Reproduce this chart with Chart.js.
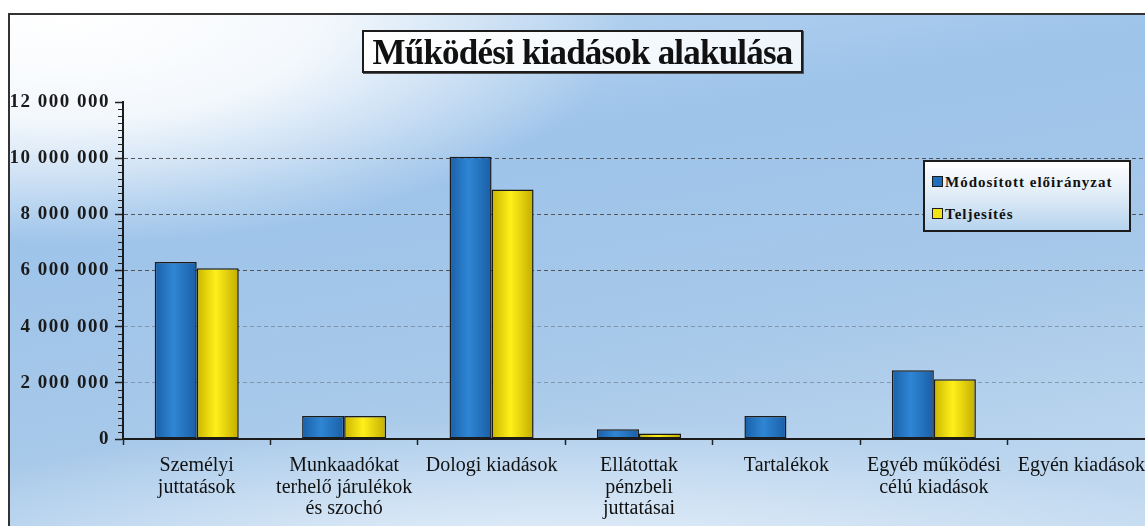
<!DOCTYPE html>
<html>
<head>
<meta charset="utf-8">
<script src="https://cdn.jsdelivr.net/npm/chart.js@4.4.1/dist/chart.umd.min.js"></script>
<style>
  html, body { margin: 0; padding: 0; width: 1145px; height: 526px; overflow: hidden; background: #fff; }
  #keret {
    position: absolute; left: 8px; top: 13px; width: 1150px; height: 520px;
    border-left: 2px solid #333; border-top: 2px solid #333;
    background:
      radial-gradient(ellipse 560px 230px at 5% 0%, #ffffff 0%, rgba(255,255,255,0.85) 45%, rgba(255,255,255,0) 100%),
      radial-gradient(ellipse 700px 140px at 45% 105%, rgba(235,243,251,0.9) 0%, rgba(235,243,251,0) 100%),
      linear-gradient(170deg, #c0d9f2 0%, #9ec4ea 30%, #a6c8e9 60%, #c6dcf1 100%);
  }
  #vaszon { position: absolute; left: 0; top: 0; width: 1145px; height: 511px; }
  #cim {
    position: absolute; left: 362px; top: 30px; width: 437px; height: 39px;
    border: 2px solid #1c1c1c; box-shadow: 1px 1px 0 #555;
    background: linear-gradient(to right, #ffffff, #eef5fb);
    font: bold 35px "Liberation Serif", serif; color: #111;
    text-align: center; line-height: 41px; letter-spacing: -0.8px;
  }
  #jelmagyarazat {
    position: absolute; left: 923px; top: 160px; width: 204px; height: 68px;
    border: 2px solid #1c1c1c;
    background: linear-gradient(to bottom, #ffffff 0%, #dbe9f6 55%, #b6d3ee 100%);
    font: bold 15px "Liberation Serif", serif; color: #111; letter-spacing: 1px;
  }
  .elem { position: absolute; left: 7px; height: 16px; line-height: 16px; white-space: nowrap; }
  .elem i { display: inline-block; width: 9px; height: 9px; border: 1px solid #1c1c1c; margin-right: 2px; vertical-align: 0px; }
</style>
</head>
<body>
<div id="keret"><canvas id="vaszon" width="1145" height="511"></canvas></div>
<div id="cim">Működési kiadások alakulása</div>
<div id="jelmagyarazat">
  <div class="elem" style="top:12px"><i style="background:#1f6fc0"></i>Módosított előirányzat</div>
  <div class="elem" style="top:44px"><i style="background:#f2e21a"></i>Teljesítés</div>
</div>
<script>
// adatok
const kategoriak = [
  ["Személyi", "juttatások"],
  ["Munkaadókat", "terhelő járulékok", "és szochó"],
  "Dologi kiadások",
  ["Ellátottak", "pénzbeli", "juttatásai"],
  "Tartalékok",
  ["Egyéb működési", "célú kiadások"],
  "Egyén kiadások"
];
const modositott = [6300000, 820000, 10050000, 350000, 820000, 2450000, 0];
const teljesites = [6080000, 820000, 8880000, 200000, 0, 2130000, 0];
const yTickek = [0, 2000000, 4000000, 6000000, 8000000, 10000000, 12000000];

const szamFormat = v => String(v).replace(/\B(?=(\d{3})+(?!\d))/g, " ");

const KAT_SZAZALEK = 0.57;

// oszlopok vizszintes szinatmenete
function oszlopSzin(szinek, sorszam) {
  return ctx => {
    const chart = ctx.chart, x = chart.scales && chart.scales.x;
    if (!x || ctx.dataIndex === undefined) return szinek[1];
    const kozep = x.getPixelForValue(ctx.dataIndex);
    const szel = x.width / kategoriak.length * KAT_SZAZALEK / 2;
    if (!isFinite(kozep) || !isFinite(szel) || szel <= 0) return szinek[1];
    const bal = kozep - szel + sorszam * szel;
    const g = chart.ctx.createLinearGradient(bal, 0, bal + szel, 0);
    g.addColorStop(0, szinek[0]);
    g.addColorStop(0.45, szinek[1]);
    g.addColorStop(1, szinek[2]);
    return g;
  };
}

// kis osztasok az y tengelyen + ritkitott y feliratok
const kisOsztas = {
  id: "kisOsztas",
  afterUpdate(chart) {
    const s = chart.scales.y;
    if (s._ritkitva) return;
    const eredeti = s.drawLabels.bind(s);
    s.drawLabels = ca => {
      chart.ctx.save();
      chart.ctx.letterSpacing = "1.5px";
      eredeti(ca);
      chart.ctx.restore();
    };
    s._ritkitva = true;
  },
  afterDraw(chart) {
    const y = chart.scales.y, c = chart.ctx, bal = chart.chartArea.left;
    c.save();
    c.strokeStyle = "#222";
    c.lineWidth = 1;
    for (let v = 0; v <= 12000000; v += 250000) {
      if (v % 2000000 === 0) continue;
      const p = Math.round(y.getPixelForValue(v)) + 0.5;
      c.beginPath(); c.moveTo(bal - 5, p); c.lineTo(bal, p); c.stroke();
    }
    c.restore();
  }
};

new Chart(document.getElementById("vaszon"), {
  type: "bar",
  data: {
    labels: kategoriak,
    datasets: [
      { label: "Módosított előirányzat", data: modositott,
        backgroundColor: oszlopSzin(["#1a5fa8", "#2f86d4", "#1a5ea6"], 0),
        borderColor: "#1b1b1b", borderWidth: 1.5, borderSkipped: false },
      { label: "Teljesítés", data: teljesites,
        backgroundColor: oszlopSzin(["#c9b500", "#fff01a", "#c2ad00"], 1),
        borderColor: "#1b1b1b", borderWidth: 1.5, borderSkipped: false }
    ]
  },
  options: {
    responsive: false, animation: false,
    devicePixelRatio: 1,
    layout: { padding: { top: 87, left: 0, right: 0, bottom: 0 } },
    datasets: { bar: { categoryPercentage: KAT_SZAZALEK, barPercentage: 1 } },
    plugins: { legend: { display: false }, title: { display: false }, tooltip: { enabled: false } },
    scales: {
      x: {
        offset: true,
        grid: { offset: true, drawOnChartArea: false, tickLength: 6, tickColor: "#222", tickWidth: 1.5 },
        border: { color: "#1b1b1b", width: 2 },
        ticks: { color: "#111", maxRotation: 0, minRotation: 0, autoSkip: false, padding: 10,
                 font: { family: "Liberation Serif", size: 20, lineHeight: 1.08 } },
        afterFit: s => { s.height = 87; }
      },
      y: {
        min: 0, max: 12000000,
        afterBuildTicks: s => { s.ticks = yTickek.map(v => ({ value: v })); },
        grid: {
          tickLength: 8, tickColor: "#222", tickWidth: 1.5,
          color: c => {
            const v = c.tick ? c.tick.value : 0;
            if (v === 0 || v === 12000000) return "rgba(0,0,0,0)";
            return v >= 6000000 ? "#555" : "rgba(110,130,150,0.7)";
          }
        },
        border: { color: "#1b1b1b", width: 2, dash: [4, 3] },
        ticks: { color: "#1a1a1a", padding: 5, callback: v => szamFormat(v),
                 font: { family: "Liberation Serif", size: 19, weight: "bold" } },
        afterFit: s => { s.width = 113; }
      }
    }
  },
  plugins: [kisOsztas]
});
</script>
</body>
</html>
